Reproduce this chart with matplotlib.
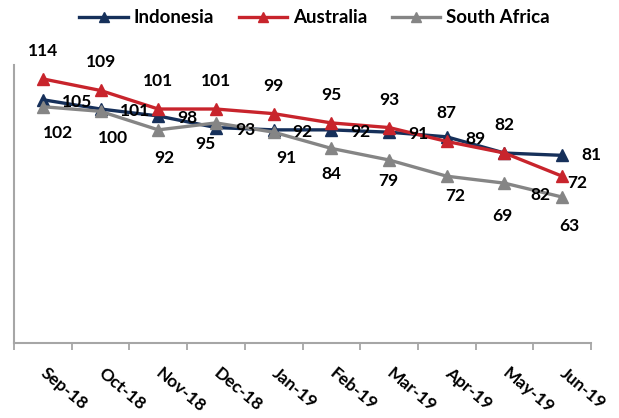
import matplotlib.pyplot as plt
import numpy as np

months = ['Sep-18', 'Oct-18', 'Nov-18', 'Dec-18', 'Jan-19',
          'Feb-19', 'Mar-19', 'Apr-19', 'May-19', 'Jun-19']
indonesia = [105, 101, 98, 93, 92, 92, 91, 89, 82, 81]
australia = [114, 109, 101, 101, 99, 95, 93, 87, 82, 72]
south_africa = [102, 100, 92, 95, 91, 84, 79, 72, 69, 63]

# label offsets in pixels (dx, dy), dy positive = up
indo_off = [(19, -2)] * 8 + [(26, -42), (19, 0)]
aus_off = [(0, 28)] * 9 + [(15, -7)]
sa_off = [(15, -26), (12, -27), (6, -28), (-11, -21), (13, -26),
          (0, -26), (-1, -21), (8, -20), (-2, -33), (7, -29)]

navy = '#16305A'
red = '#C8242C'
grey = '#858585'
axis_grey = '#A6A6A6'

plt.rcParams['font.family'] = 'Lato'
plt.rcParams['font.weight'] = 'bold'

fig = plt.figure(figsize=(6.19, 4.18), dpi=100)
ax = fig.add_axes([14/619, 1-343/418, (591-14)/619, (343-65)/418])

x = np.arange(len(months))
series = [
    ('Indonesia', indonesia, navy, indo_off, 'left'),
    ('Australia', australia, red, aus_off, 'center'),
    ('South Africa', south_africa, grey, sa_off, 'center'),
]
for name, vals, col, offs, ha in series:
    ax.plot(x, vals, color=col, lw=2.4, marker='^', ms=9, mec=col, label=name)
for name, vals, col, offs, ha in series:
    for xi, v, (dx, dy) in zip(x, vals, offs):
        ax.annotate(str(v), (xi, v), xytext=(dx, dy), textcoords='offset pixels',
                    ha=ha, va='center', fontsize=12.5, fontweight='bold',
                    color='black')

ax.set_xlim(-0.5, len(months) - 0.5)
ax.set_ylim(0, 120)
ax.set_yticks([])
ax.set_xticks(np.arange(-0.5, len(months), 1))
ax.set_xticklabels([])
ax.set_xticks(x, minor=True)
ax.set_xticklabels(months, minor=True, fontsize=12.5, fontweight='bold')
ax.tick_params(axis='x', which='major', length=5, color=axis_grey, width=1.3)
ax.tick_params(axis='x', which='minor', length=0, pad=20)
for lbl in ax.get_xticklabels(minor=True):
    lbl.set_rotation(-40)
    lbl.set_ha('left')
    lbl.set_va('center')
    lbl.set_rotation_mode('anchor')

for s in ['top', 'right']:
    ax.spines[s].set_visible(False)
for s in ['left', 'bottom']:
    ax.spines[s].set_color(axis_grey)
    ax.spines[s].set_linewidth(1.5)

fig.legend(loc='center', bbox_to_anchor=(0.508, 0.957), ncol=3, frameon=False,
           fontsize=13.5, handlelength=2.6, columnspacing=1.3, handletextpad=0.3,
           markerscale=0.75)

fig.savefig('out.png', dpi=100)
